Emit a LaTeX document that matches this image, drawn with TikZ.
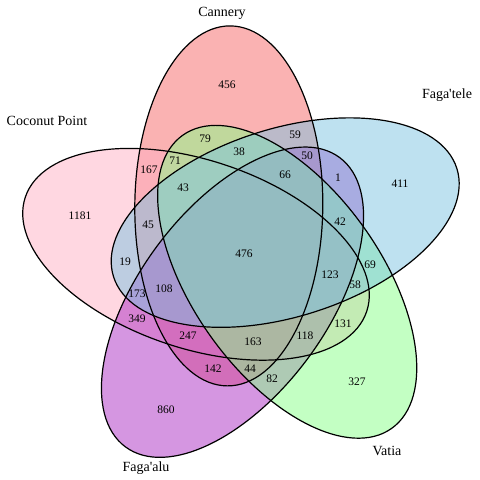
\documentclass[tikz,border=0pt]{standalone}
\usepackage{fontspec}
\setmainfont{Liberation Serif}[Ligatures=TeXOff]
\definecolor{ccan}{RGB}{245,101,101}
\definecolor{ctele}{RGB}{125,195,225}
\definecolor{cvat}{RGB}{135,255,135}
\definecolor{calu}{RGB}{171,45,195}
\definecolor{ccoc}{RGB}{255,175,195}
\tikzset{
  setfill/.style={fill=#1, fill opacity=0.5},
  setline/.style={draw=black, line width=1.2pt},
  num/.style={font=\fontsize{11.5}{12}\selectfont, inner sep=0pt},
  cat/.style={font=\fontsize{14}{15}\selectfont, inner sep=0pt},
  ell/.style={x radius=180pt, y radius=94pt}
}
\begin{document}
\begin{tikzpicture}[x=1pt,y=1pt]
\useasboundingbox (0,0) rectangle (480,480);
\coordinate (can) at (228.8,274.1);
\coordinate (tele) at (285.2,257.4);
\coordinate (vat) at (287.2,198.2);
\coordinate (alu) at (232.5,177.8);
\coordinate (coc) at (196.0,225.7);
% fills
\fill[setfill=ccan] (can) ellipse [ell, rotate=89.5];
\fill[setfill=ccoc] (coc) ellipse [ell, rotate=161.5];
\fill[setfill=calu] (alu) ellipse [ell, rotate=-126.5];
\fill[setfill=cvat] (vat) ellipse [ell, rotate=-54.5];
\fill[setfill=ctele] (tele) ellipse [ell, rotate=17.5];
% outlines
\draw[setline] (can) ellipse [ell, rotate=89.5];
\draw[setline] (coc) ellipse [ell, rotate=161.5];
\draw[setline] (alu) ellipse [ell, rotate=-126.5];
\draw[setline] (vat) ellipse [ell, rotate=-54.5];
\draw[setline] (tele) ellipse [ell, rotate=17.5];
% numbers
\node[num] (n456) at (227,395) {456};
\node[num] (n411) at (400,296) {411};
\node[num] (n327) at (357,98) {327};
\node[num] (n860) at (166,70) {860};
\node[num] (n1181) at (80,264) {1181};
\node[num] (n79) at (205,341) {79};
\node[num] (n71) at (175,319) {71};
\node[num] (n167) at (149,310) {167};
\node[num] (n38) at (239,328) {38};
\node[num] (n43) at (183,292) {43};
\node[num] (n45) at (148,255) {45};
\node[num] (n476) at (244,226) {476};
\node[num] (n59) at (295,345) {59};
\node[num] (n50) at (307,324) {50};
\node[num] (n66) at (285,305) {66};
\node[num] (n1) at (338,302) {1};
\node[num] (n42) at (340,258) {42};
\node[num] (n69) at (370,215) {69};
\node[num] (n123) at (330,205) {123};
\node[num] (n58) at (355,195) {58};
\node[num] (n19) at (125,218) {19};
\node[num] (n173) at (137,186) {173};
\node[num] (n108) at (164,191) {108};
\node[num] (n349) at (137,161) {349};
\node[num] (n247) at (188,144) {247};
\node[num] (n163) at (253,138) {163};
\node[num] (n142) at (213,111) {142};
\node[num] (n44) at (250,111) {44};
\node[num] (n82) at (272,101) {82};
\node[num] (n118) at (305,144) {118};
\node[num] (n131) at (343,156) {131};
% category labels
\node[cat] (lcan) at (222,467) {Cannery};
\node[cat] (lcoc) at (47,359) {Coconut Point};
\node[cat] (ltele) at (447,385) {Faga'tele};
\node[cat] (lalu) at (146,12) {Faga'alu};
\node[cat] (lvat) at (387,29) {Vatia};
\end{tikzpicture}
\end{document}
